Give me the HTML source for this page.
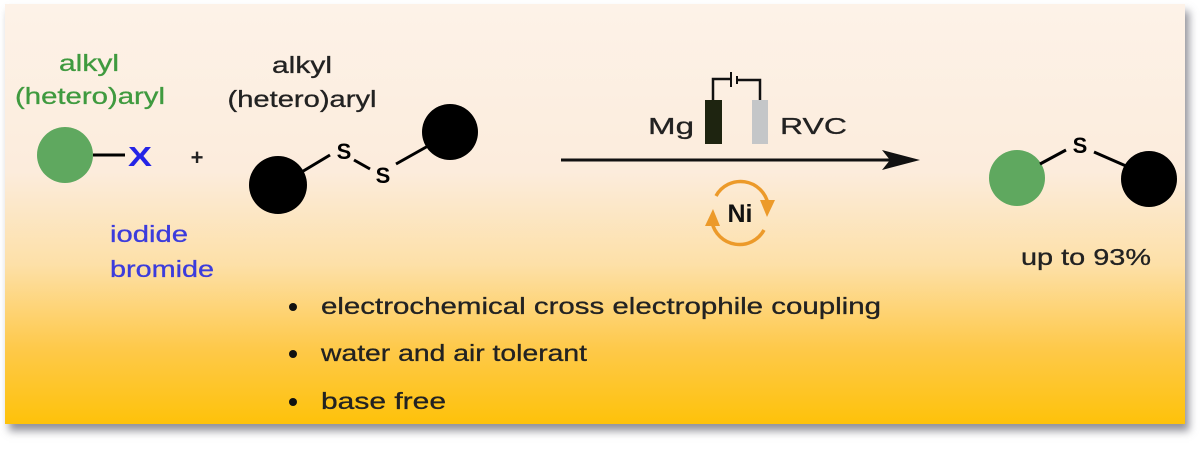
<!DOCTYPE html>
<html><head><meta charset="utf-8"><style>
html,body{margin:0;padding:0;background:#fff;width:1200px;height:452px;overflow:hidden}
#p{position:absolute;left:5px;top:4px;width:1180px;height:420px;background:linear-gradient(to bottom,#fdf2e8 0%,#fcecdc 40%,#fde0a8 62%,#fec94a 82%,#fec20a 100%);box-shadow:4px 7px 8px rgba(110,110,120,0.75)}
svg{position:absolute;left:0;top:0}
text{font-family:"Liberation Sans",Arial,sans-serif;stroke-width:0.3px}
</style></head><body>
<div id="p"></div>
<svg width="1200" height="452" viewBox="0 0 1200 452">
<text x="89" y="71" font-size="23" fill="#3f9a3f" stroke="#3f9a3f" text-anchor="middle" textLength="60" lengthAdjust="spacingAndGlyphs">alkyl</text>
<text x="90" y="104" font-size="23" fill="#3f9a3f" stroke="#3f9a3f" text-anchor="middle" textLength="150" lengthAdjust="spacingAndGlyphs">(hetero)aryl</text>
<circle cx="65" cy="155" r="28" fill="#5fa85f"/>
<line x1="93" y1="155" x2="125" y2="155" stroke="#000" stroke-width="3"/>
<text x="140" y="166" font-size="28" font-weight="bold" fill="#2424e6" text-anchor="middle" textLength="24" lengthAdjust="spacingAndGlyphs">X</text>
<text x="110" y="242" font-size="23" fill="#3c3cdc" stroke="#3c3cdc" textLength="78" lengthAdjust="spacingAndGlyphs">iodide</text>
<text x="110" y="277" font-size="23" fill="#3c3cdc" stroke="#3c3cdc" textLength="104" lengthAdjust="spacingAndGlyphs">bromide</text>
<text x="197" y="165" font-size="22" font-weight="bold" fill="#222" text-anchor="middle">+</text>
<text x="302" y="73" font-size="23" fill="#222" stroke="#222" text-anchor="middle" textLength="60" lengthAdjust="spacingAndGlyphs">alkyl</text>
<text x="302" y="107" font-size="23" fill="#222" stroke="#222" text-anchor="middle" textLength="149" lengthAdjust="spacingAndGlyphs">(hetero)aryl</text>
<circle cx="278" cy="185" r="29" fill="#000"/>
<line x1="300" y1="173" x2="330" y2="155" stroke="#000" stroke-width="3"/>
<text x="344" y="159" font-size="22" font-weight="bold" fill="#000" text-anchor="middle">S</text>
<line x1="354" y1="160" x2="370" y2="169" stroke="#000" stroke-width="3"/>
<text x="383" y="183" font-size="22" font-weight="bold" fill="#000" text-anchor="middle">S</text>
<line x1="396" y1="164" x2="428" y2="146" stroke="#000" stroke-width="3"/>
<circle cx="450" cy="132" r="28" fill="#000"/>
<line x1="561" y1="160" x2="890" y2="160" stroke="#111" stroke-width="3"/>
<polygon points="920,160 882,150 890,160 882,170" fill="#111"/>
<text x="648" y="134" font-size="23" fill="#222" stroke="#222" textLength="46" lengthAdjust="spacingAndGlyphs">Mg</text>
<rect x="705" y="100" width="17" height="44" fill="#1e2410"/>
<rect x="752" y="100" width="16" height="44" fill="#c4c6c8"/>
<polyline points="713,100 713,79 731,79" fill="none" stroke="#111" stroke-width="2.5"/>
<line x1="731" y1="72" x2="731" y2="87" stroke="#111" stroke-width="2"/>
<line x1="737" y1="76" x2="737" y2="84" stroke="#111" stroke-width="2"/>
<polyline points="737,80 760,80 760,100" fill="none" stroke="#111" stroke-width="2.5"/>
<text x="780" y="134" font-size="23" fill="#222" stroke="#222" textLength="67" lengthAdjust="spacingAndGlyphs">RVC</text>
<path d="M 716 196 A 28 28 0 0 1 768 204" fill="none" stroke="#ec9a2a" stroke-width="3.5"/>
<path d="M 764 230 A 28 28 0 0 1 712 222" fill="none" stroke="#ec9a2a" stroke-width="3.5"/>
<polygon points="760,200 775,200 767,217" fill="#ec9a2a"/>
<polygon points="705,226 720,226 713,209" fill="#ec9a2a"/>
<text x="740" y="222" font-size="25" font-weight="bold" fill="#111" text-anchor="middle">Ni</text>
<circle cx="1017" cy="178" r="28" fill="#5fa85f"/>
<line x1="1040" y1="164" x2="1066" y2="150" stroke="#000" stroke-width="3"/>
<text x="1080" y="153" font-size="22" font-weight="bold" fill="#000" text-anchor="middle">S</text>
<line x1="1094" y1="152" x2="1126" y2="166" stroke="#000" stroke-width="3"/>
<circle cx="1149" cy="179" r="28" fill="#000"/>
<text x="1021" y="265" font-size="23" fill="#222" stroke="#222" textLength="130" lengthAdjust="spacingAndGlyphs">up to 93%</text>
<circle cx="293" cy="307" r="4" fill="#111"/>
<circle cx="293" cy="354" r="4" fill="#111"/>
<circle cx="293" cy="402" r="4" fill="#111"/>
<text x="321" y="314" font-size="23" fill="#222" stroke="#222" textLength="560" lengthAdjust="spacingAndGlyphs">electrochemical cross electrophile coupling</text>
<text x="321" y="361" font-size="23" fill="#222" stroke="#222" textLength="266" lengthAdjust="spacingAndGlyphs">water and air tolerant</text>
<text x="321" y="409" font-size="23" fill="#222" stroke="#222" textLength="125" lengthAdjust="spacingAndGlyphs">base free</text>
</svg>
</body></html>
